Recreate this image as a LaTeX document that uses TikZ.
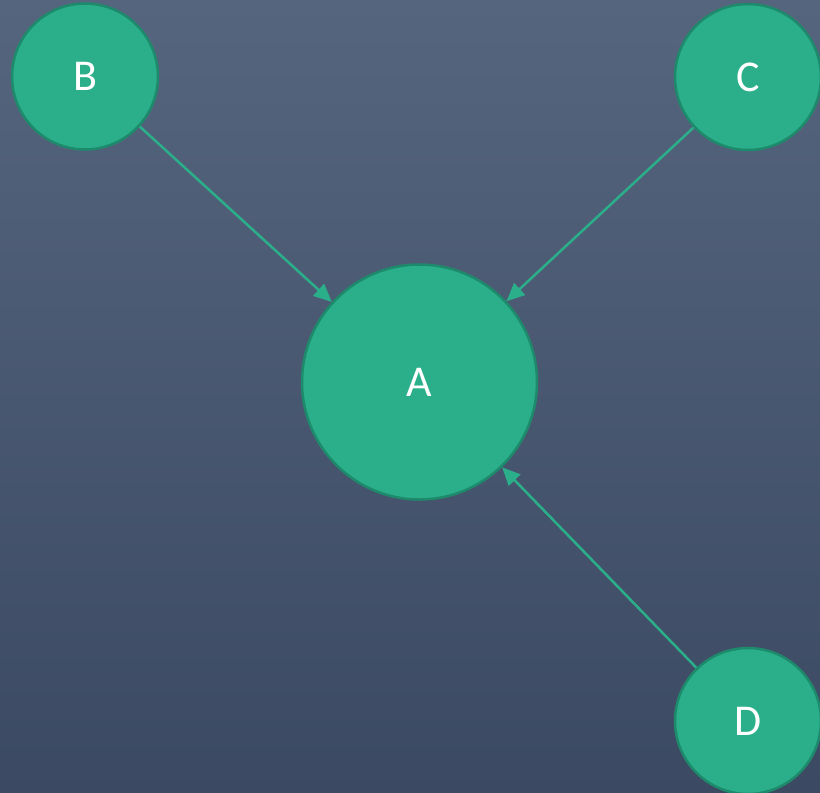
\documentclass[tikz,border=0pt]{standalone}
\usepackage{fontspec}
\setmainfont{Carlito}
\usetikzlibrary{arrows.meta}
\definecolor{bgtop}{RGB}{86,101,126}
\definecolor{bgbot}{RGB}{59,74,98}
\definecolor{nodefill}{RGB}{42,175,138}
\definecolor{nodeline}{RGB}{30,138,108}
\tikzset{
  circ/.style={circle, fill=nodefill, draw=nodeline, line width=2.5pt, inner sep=0pt, text=white, font=\fontsize{44}{44}\selectfont},
  small/.style={circ, minimum size=146pt},
  big/.style={circ, minimum size=235pt},
  edge/.style={draw=nodefill, line width=2.5pt, -{Triangle[length=18pt,width=16pt]}}
}
\begin{document}
\begin{tikzpicture}[x=1pt,y=-1pt]
\shade[top color=bgtop, bottom color=bgbot] (0,0) rectangle (820,793);
\useasboundingbox (0,0) rectangle (820,793);
\node[big] (A) at (419.5,382) {A};
\node[small] (B) at (85,76.5) {B};
\node[small] (C) at (748,77) {C};
\node[small] (D) at (748,721) {D};
\draw[edge] (B) -- (A);
\draw[edge] (C) -- (A);
\draw[edge] (D) -- (A);
\end{tikzpicture}
\end{document}
